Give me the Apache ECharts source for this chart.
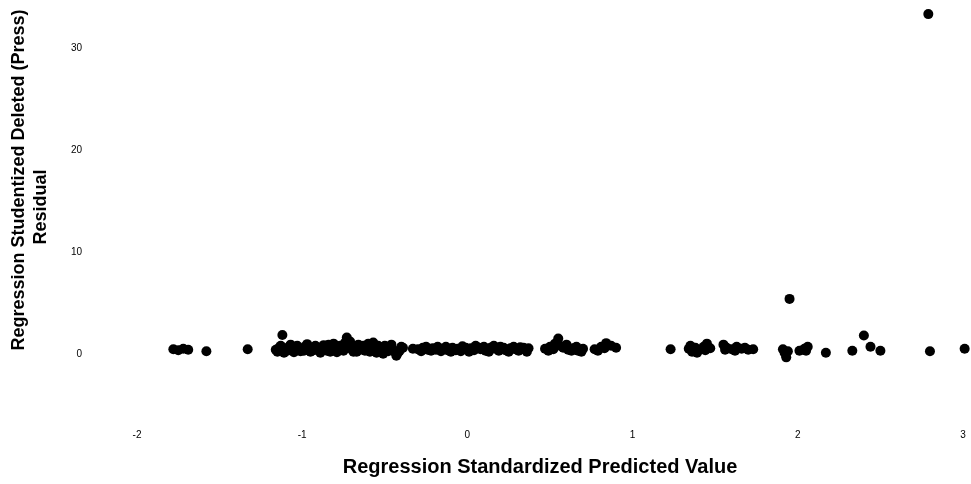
<!DOCTYPE html>
<html>
<head>
<meta charset="utf-8">
<script src="https://cdn.jsdelivr.net/npm/echarts@6/dist/echarts.min.js"></script>
<style>
html,body{margin:0;padding:0;background:#fff;}
#chart{width:971px;height:484px;}
</style>
</head>
<body>
<div id="chart"></div>
<script>
// Predicted (x) values and residual (y) values
const predicted = [
  -1.78,-1.75,-1.72,-1.69,-1.58,-1.33,-1.12,
  -1.16,-1.14,-1.12,-1.10,-1.08,-1.06,-1.04,-1.02,-1.00,-0.98,-0.96,-0.94,-0.92,-0.90,-0.88,-0.86,-0.84,-0.82,-0.80,-0.78,-0.76,-0.74,-0.73,-0.72,-0.70,-0.69,
  -1.15,-1.13,-1.11,-1.09,-1.07,-1.05,-1.03,-1.01,-0.99,-0.97,-0.95,-0.93,-0.91,-0.89,-0.87,-0.85,-0.83,-0.81,-0.79,-0.77,-0.75,-0.71,
  -0.68,-0.66,-0.64,-0.62,-0.60,-0.58,-0.56,-0.54,-0.52,-0.51,-0.49,-0.47,-0.45,-0.43,-0.41,-0.39,-0.33,
  -0.67,-0.65,-0.63,-0.61,-0.59,-0.57,-0.55,-0.53,-0.50,-0.48,-0.46,-0.44,-0.42,-0.40,
  -0.30,-0.27,-0.24,-0.21,-0.18,-0.15,-0.12,-0.09,-0.06,-0.03,0.00,0.02,0.05,0.08,0.11,0.14,0.17,0.20,0.23,0.26,0.29,0.32,0.35,0.37,
  -0.28,-0.25,-0.22,-0.19,-0.16,-0.13,-0.10,-0.07,-0.04,-0.01,0.01,0.04,0.07,0.10,0.13,0.16,0.19,0.22,0.25,0.28,0.31,0.34,0.36,
  0.47,0.50,0.53,0.55,0.58,0.61,0.64,0.67,0.70,
  0.49,0.52,0.56,0.60,0.63,0.66,0.69,
  0.77,0.81,0.84,0.87,0.90,0.79,0.83,
  1.23,
  1.34,1.36,1.38,1.40,1.43,1.45,1.47,1.35,1.39,1.44,
  1.55,1.57,1.60,1.63,1.66,1.70,1.73,1.56,1.62,1.68,
  1.91,1.93,1.94,1.95,2.01,2.04,2.06,1.92,2.05,
  2.17,2.33,2.40,2.44,2.50,2.79,2.80,3.01
];
const residual = [
  0.45,0.35,0.50,0.40,0.25,0.45,1.85,
  0.40,0.60,0.35,0.50,0.70,0.45,0.30,0.60,0.50,0.75,0.40,0.55,0.80,0.45,0.30,0.65,0.90,0.50,0.70,0.35,0.55,1.10,1.60,0.80,0.45,0.20,
  0.20,0.80,0.10,0.30,0.90,0.15,0.80,0.25,0.30,0.95,0.20,0.35,0.60,0.10,0.85,0.30,0.20,1.00,0.15,0.80,0.30,1.20,
  0.60,0.90,0.50,0.30,1.00,0.65,0.40,0.80,0.50,0.00,0.55,0.70,0.40,-0.20,0.30,0.60,0.50,
  0.20,0.40,0.80,0.60,0.20,1.10,0.10,0.30,0.80,0.25,0.90,0.20,0.10,0.70,
  0.45,0.60,0.40,0.55,0.70,0.45,0.35,0.60,0.50,0.75,0.40,0.55,0.80,0.45,0.30,0.60,0.50,0.70,0.35,0.55,0.45,0.65,0.40,0.55,
  0.25,0.70,0.30,0.40,0.25,0.70,0.20,0.35,0.25,0.60,0.20,0.35,0.60,0.70,0.20,0.80,0.30,0.60,0.20,0.70,0.30,0.60,0.20,
  0.50,0.70,1.00,1.50,0.60,0.40,0.55,0.30,0.50,
  0.30,0.45,0.80,0.90,0.30,0.70,0.20,
  0.45,0.70,1.05,0.80,0.60,0.30,0.55,
  0.45,
  0.50,0.20,0.60,0.35,0.70,1.00,0.55,0.80,0.10,0.35,
  0.90,0.60,0.45,0.70,0.50,0.40,0.45,0.40,0.30,0.60,
  0.45,-0.35,0.25,5.40,0.30,0.50,0.70,0.10,0.30,
  0.10,0.30,1.80,0.70,0.30,33.40,0.25,0.50
];
const yTickValues = [0, 10, 20, 30];
const xTitle = 'Regression Standardized Predicted Value';
const yTitleLine1 = 'Regression Studentized Deleted (Press)';
const yTitleLine2 = 'Residual';

const points = predicted.map((x, i) => [x, residual[i]]);

const chart = echarts.init(document.getElementById('chart'), null, {renderer: 'canvas'});
chart.setOption({
  backgroundColor: '#ffffff',
  animation: false,
  grid: {left: 137, right: 8, top: 8, bottom: 59},
  xAxis: {
    type: 'value', min: -2, max: 3, interval: 1,
    axisLine: {show: false}, axisTick: {show: false}, splitLine: {show: false},
    axisLabel: {color: '#000', fontFamily: 'Liberation Sans', fontSize: 10, margin: 5}
  },
  yAxis: {
    type: 'value', min: -7, max: 34,
    axisLine: {show: false}, axisTick: {show: false}, splitLine: {show: false},
    axisLabel: {color: '#000', fontFamily: 'Liberation Sans', fontSize: 10, margin: 55, customValues: yTickValues}
  },
  graphic: [
    {type: 'text', x: 19, y: 180, rotation: Math.PI / 2,
     style: {text: yTitleLine1, fill: '#000', font: 'bold 18px "Liberation Sans"', textAlign: 'center', textVerticalAlign: 'middle'}},
    {type: 'text', x: 41, y: 207, rotation: Math.PI / 2,
     style: {text: yTitleLine2, fill: '#000', font: 'bold 18px "Liberation Sans"', textAlign: 'center', textVerticalAlign: 'middle'}},
    {type: 'text', x: 540, y: 467,
     style: {text: xTitle, fill: '#000', font: 'bold 20px "Liberation Sans"', textAlign: 'center', textVerticalAlign: 'middle'}}
  ],
  series: [{
    type: 'scatter', data: points, symbol: 'circle', symbolSize: 10, clip: false,
    itemStyle: {color: '#000', opacity: 1}
  }]
});
</script>
</body>
</html>
